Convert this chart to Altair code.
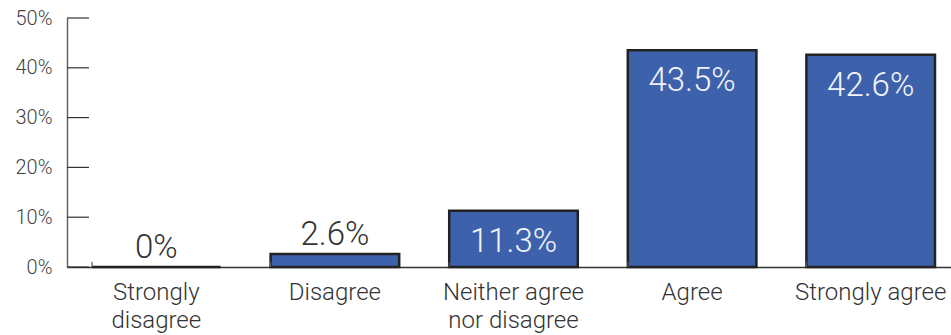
import altair as alt
import pandas as pd

categories = ["Strongly|disagree", "Disagree", "Neither agree|nor disagree", "Agree", "Strongly agree"]
values = [0.0, 2.6, 11.3, 43.5, 42.6]
y_ticks = [0, 10, 20, 30, 40, 50]

df = pd.DataFrame({"category": categories, "value": values})
ticks_df = pd.DataFrame({"t": y_ticks})

W, H = 884, 249
FULL = 893
FONT = "Roboto"

xscale = alt.Scale(paddingInner=0.28, paddingOuter=0.14, range=[0, FULL])

xenc = alt.X(
    "category:N",
    sort=categories,
    scale=xscale,
    axis=alt.Axis(
        title=None,
        labelExpr="split(datum.label, '|')",
        labelAngle=0,
        labelFont=FONT,
        labelFontWeight=300,
        labelFontSize=24,
        labelColor="#333333",
        labelLineHeight=28,
        labelPadding=13,
        labelBaseline="top",
        labelLimit=300,
        ticks=False,
        domainColor="#333333",
        domainWidth=1.5,
    ),
)
yscale = alt.Scale(domain=[0, 50], nice=False)

base = alt.Chart(df)

bars = base.mark_bar(color="#3E61AC", stroke="#222222", strokeWidth=2.5).encode(
    x=xenc,
    y=alt.Y(
        "value:Q",
        scale=yscale,
        axis=alt.Axis(
            title=None,
            values=y_ticks,
            labelExpr="datum.value + '%'",
            labelFont=FONT,
            labelFontWeight=300,
            labelFontSize=20,
            labelColor="#444444",
            labelPadding=15,
            tickSize=0,
            ticks=False,
            grid=False,
            domainColor="#666666",
            domainWidth=1.5,
        ),
    ),
)

label_calc = "datum.value == 0 ? '0%' : format(datum.value, '.1f') + '%'"

above = base.transform_filter("datum.value <= 5").transform_calculate(lbl=label_calc).mark_text(
    font=FONT, fontWeight=300, fontSize=33, color="#333333", baseline="alphabetic", dy=-9
).encode(
    x=alt.X("category:N", sort=categories, scale=xscale),
    y=alt.Y("value:Q", scale=yscale),
    text="lbl:N",
)

inside = base.transform_filter("datum.value > 5").transform_calculate(lbl=label_calc).mark_text(
    font=FONT, fontWeight=300, fontSize=33, color="#F2F4FA", baseline="alphabetic", dy=41
).encode(
    x=alt.X("category:N", sort=categories, scale=xscale),
    y=alt.Y("value:Q", scale=yscale),
    text="lbl:N",
)

ytick_rules = alt.Chart(ticks_df).mark_rule(color="#333333", strokeWidth=1.2).encode(
    y=alt.Y("t:Q", scale=yscale),
    x=alt.value(0),
    x2=alt.value(22),
)

xtick_rules = base.mark_rule(color="#555555", strokeWidth=1.2).encode(
    x=alt.X("category:N", sort=categories, bandPosition=0, scale=xscale),
    y=alt.value(H - 5),
    y2=alt.value(H),
)

chart = alt.layer(bars, above, inside, ytick_rules, xtick_rules).properties(
    width=W,
    height=H,
    autosize=alt.AutoSizeParams(type="none"),
    padding={"left": 67, "top": 18, "right": 0, "bottom": 68},
    background="white",
).configure_view(stroke=None)

chart.save("out.html", embed_options={"renderer": "svg", "actions": False})
